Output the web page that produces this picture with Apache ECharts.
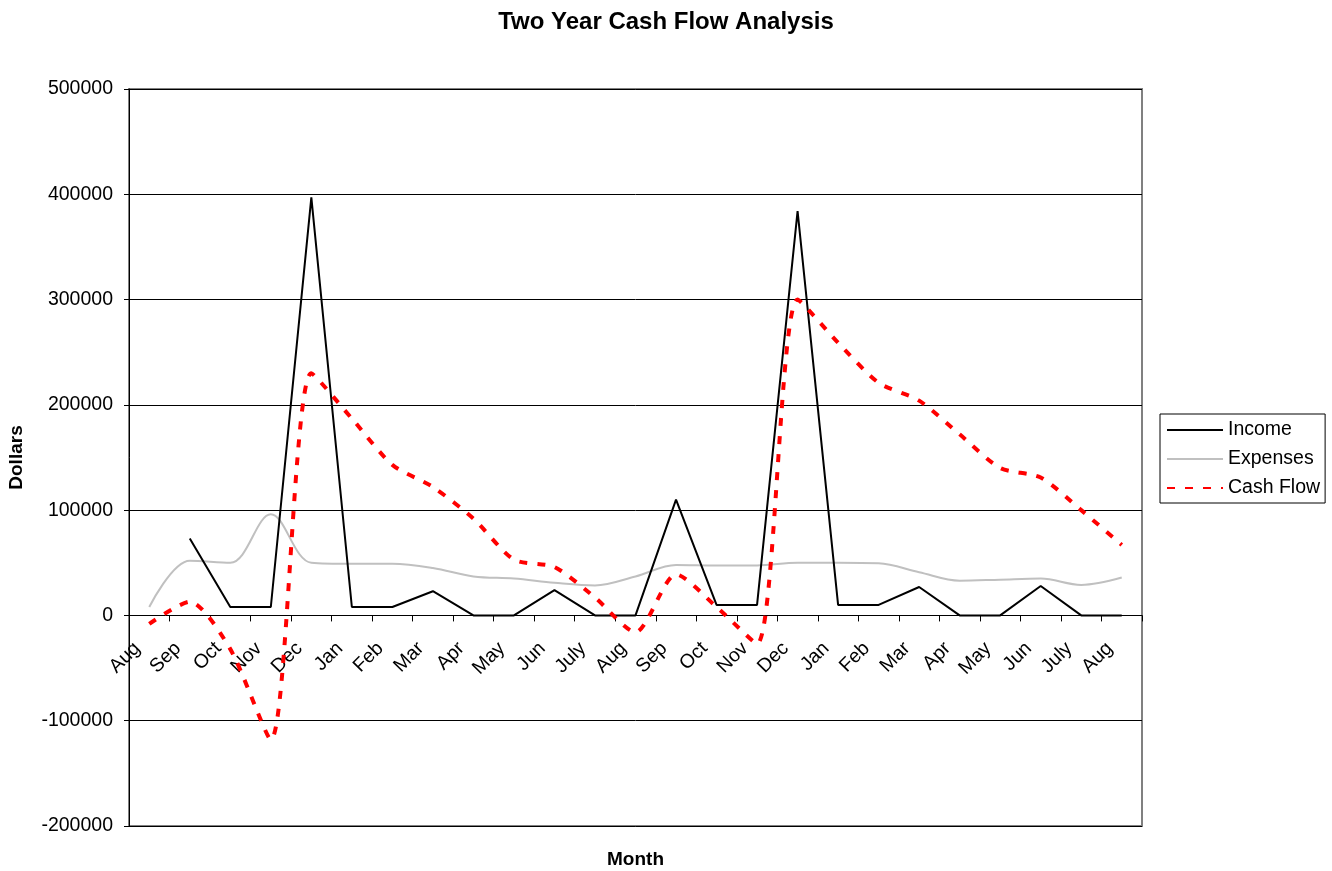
<!DOCTYPE html>
<html>
<head>
<meta charset="utf-8">
<script src="https://cdn.jsdelivr.net/npm/echarts@6/dist/echarts.min.js"></script>
<style>
html,body{margin:0;padding:0;background:#fff;}
#chart{width:1332px;height:871px;}
</style>
</head>
<body>
<div id="chart"></div>
<script>
var months = ["Aug","Sep","Oct","Nov","Dec","Jan","Feb","Mar","Apr","May","Jun","July",
              "Aug","Sep","Oct","Nov","Dec","Jan","Feb","Mar","Apr","May","Jun","July","Aug"];
var income = [null,73000,8000,8000,397000,8000,8000,23000,0,0,24000,0,
              0,110000,10000,10000,384000,10000,10000,27000,0,0,28000,0,0];
var expenses = [8000,52000,50000,96000,50000,49000,49000,45000,37000,35000,31000,28500,
                37000,48000,47500,47500,50000,50000,49500,41000,33000,34000,35000,29000,36000];
var cashFlow = [-8000,13000,-32000,-118000,230000,187000,143000,122000,92000,53000,46000,17000,
                -16000,39000,8000,-27000,300000,259000,221000,204000,172000,140000,131000,100000,67000];
var yTicks = {min:-200000, max:500000, step:100000};

var gridTop = 89, gridBottom = 45, chartH = 871;
var gridH = chartH - gridTop - gridBottom;
// place the category axis on the zero line
var zeroOffset = -gridH * (0 - yTicks.min) / (yTicks.max - yTicks.min);

var chart = echarts.init(document.getElementById('chart'));
var font = 'Liberation Sans, Arial, sans-serif';
chart.setOption({
  animation:false,
  backgroundColor:'#fff',
  textStyle:{fontFamily:font},
  title:{
    text:'Two Year Cash Flow Analysis',
    left:'center', top:5,
    textStyle:{fontSize:24,fontWeight:'bold',color:'#000',fontFamily:font}
  },
  legend:{
    orient:'vertical',
    left:1160, top:414,
    padding:[6,5,5,6],
    borderColor:'#000', borderWidth:1,
    itemWidth:56, itemHeight:18, itemGap:9,
    itemStyle:{color:'transparent', borderWidth:0, opacity:0},
    textStyle:{fontSize:19.5,lineHeight:20,color:'#000',fontFamily:font},
    data:['Income','Expenses','Cash Flow']
  },
  grid:{
    left:129, right:190, top:gridTop, bottom:gridBottom,
    containLabel:false, outerBoundsMode:'none',
    show:true, borderColor:'#808080', borderWidth:2, backgroundColor:'#fff'
  },
  graphic:[{
    type:'text', x:635.5, y:860,
    style:{text:'Month', font:'bold 19px '+font, fill:'#000', align:'center', verticalAlign:'middle'}
  }],
  xAxis:{
    type:'category',
    data:months,
    boundaryGap:true,
    position:'bottom',
    offset:zeroOffset,
    axisLine:{onZero:false, lineStyle:{color:'#000',width:1}},
    axisTick:{show:true, inside:false, length:6, alignWithLabel:false, lineStyle:{color:'#000'}},
    axisLabel:{rotate:45, margin:18, padding:[0,17,0,0], fontSize:19.5, color:'#000', fontFamily:font, interval:0},
    splitLine:{show:false}
  },
  yAxis:{
    type:'value',
    min:yTicks.min, max:yTicks.max, interval:yTicks.step,
    name:'Dollars', nameLocation:'middle', nameGap:103, nameRotate:90,
    nameTextStyle:{fontSize:19,fontWeight:'bold',color:'#000',fontFamily:font},
    axisLine:{show:true, onZero:false, lineStyle:{color:'#000',width:1}},
    axisTick:{show:true, length:5, lineStyle:{color:'#000'}},
    axisLabel:{fontSize:19.5, color:'#000', margin:16, fontFamily:font,
               formatter:function(v){return String(v);}},
    splitLine:{show:true, lineStyle:{color:'#000',width:1}}
  },
  series:[
    {name:'Income', type:'line', data:income, symbol:'none', connectNulls:false,
     lineStyle:{color:'#000',width:2}, itemStyle:{color:'#000'}, z:3},
    {name:'Expenses', type:'line', data:expenses, symbol:'none', smooth:0.35,
     lineStyle:{color:'#c0c0c0',width:2}, itemStyle:{color:'#c0c0c0'}, z:2},
    {name:'Cash Flow', type:'line', data:cashFlow, symbol:'none', smooth:0.25,
     lineStyle:{color:'#ff0000',width:4,type:[8,10]}, itemStyle:{color:'#ff0000'}, z:4}
  ]
});
</script>
</body>
</html>
